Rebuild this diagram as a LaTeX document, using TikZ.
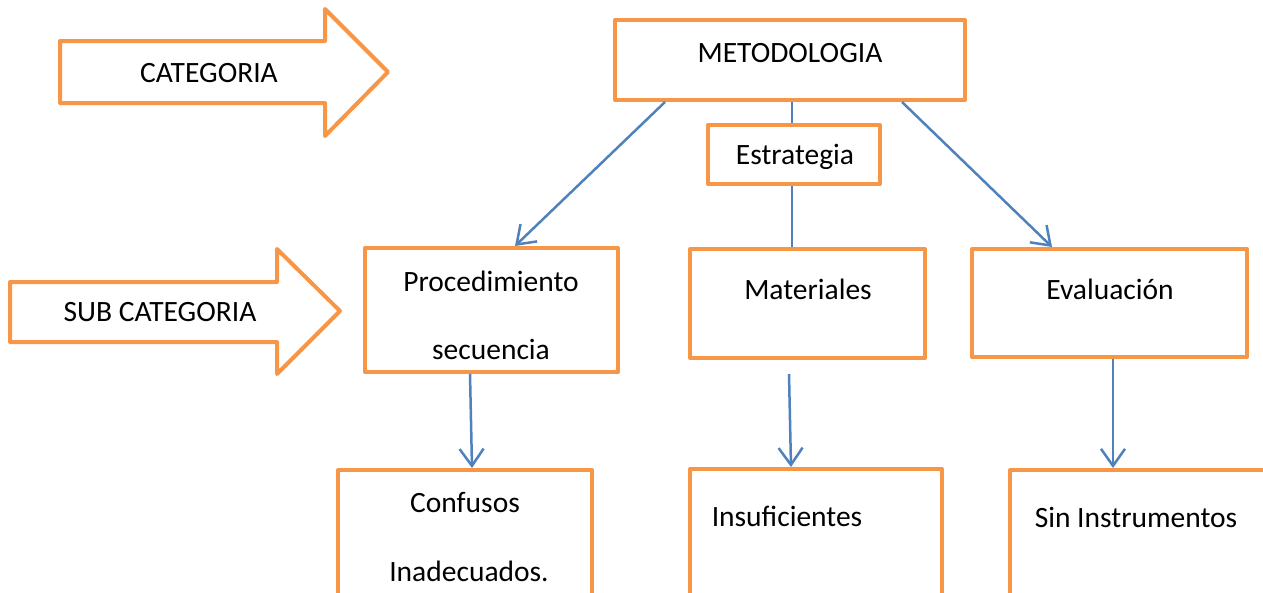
\documentclass[tikz,border=0pt]{standalone}
\usepackage{fontspec}
\setmainfont{Carlito}
\usetikzlibrary{
    arrows.meta, % Open arrow tips on the connectors.
}
\definecolor{boxorange}{HTML}{F79646}
\definecolor{linkblue}{HTML}{4F81BD}

\begin{document}
\begin{tikzpicture}[%
        x = 1pt,
        y = -1pt,
        line join = round,
        box/.style = {draw = boxorange, line width = 4pt, fill = white,
            inner sep = 0pt},
        link/.style = {draw = linkblue, line width = 2.5pt,
            -{Straight Barb[length = 17pt, width = 24pt, line width = 2.5pt]}},
        label/.style = {font = \fontsize{29.5}{35}\selectfont}
    ]
        \useasboundingbox (0, 0) rectangle (1263, 592);

        % Big arrows on the left.
        \draw[boxorange, line width = 4pt]
            (60, 41) -- (325, 41) -- (325, 9) -- (388, 72) -- (325, 136)
            -- (325, 103) -- (60, 103) -- cycle;
        \node[label] (cat) at (209, 73) {CATEGORIA};

        \draw[boxorange, line width = 4pt]
            (10, 282) -- (277, 282) -- (277, 249) -- (340, 311) -- (277, 374)
            -- (277, 342) -- (10, 342) -- cycle;
        \node[label] (subcat) at (160, 312) {SUB CATEGORIA};

        % Nodes for all of the boxes.
        \node[box, minimum width = 350, minimum height = 80] (met) at (790, 60) {};
        \node[box, minimum width = 253, minimum height = 124] (proc) at (491.5, 310) {};
        \node[box, minimum width = 235, minimum height = 109] (mat) at (807.5, 303.5) {};
        \node[box, minimum width = 275, minimum height = 108] (eval) at (1109.5, 303) {};
        \node[box, minimum width = 254, minimum height = 140] (conf) at (465, 540) {};
        \node[box, minimum width = 252, minimum height = 140] (insu) at (816, 539) {};
        \node[box, minimum width = 260, minimum height = 140] (sin) at (1140, 540) {};

        % Line from the top box down through the middle one.
        \draw[linkblue, line width = 2pt] (met.south -| 792, 0) -- (mat.north -| 792, 0);
        \node[box, minimum width = 172, minimum height = 59] (estr) at (794, 154.5) {};

        % Connectors.
        \draw[link] (met.south -| 665, 0) -- (proc.north -| 515, 0);
        \draw[link] (met.south -| 902, 0) -- (eval.north -| 1052, 0);
        \draw[link] (proc.south -| 470, 0) -- (conf.north -| 472, 0);
        \draw[link] ([yshift = -14pt] mat.south -| 789, 0) -- (insu.north -| 791, 0);
        \draw[link] (eval.south -| 1113, 0) -- (sin.north -| 1113, 0);

        % Texts in the boxes.
        \node[label] (metl) at (790, 53) {METODOLOGIA};
        \node[label] (estrl) at (795, 157) {Estrategia};
        \node[label] (procl) at (491, 281) {Procedimiento};
        \node[label] (secl) at (491, 349) {secuencia};
        \node[label] (matl) at (808, 289) {Materiales};
        \node[label] (evall) at (1110, 289) {Evaluación};
        \node[label] (confl) at (465, 502) {Confusos};
        \node[label] (inadl) at (469, 571) {Inadecuados.};
        \node[label] (insul) at (787, 516) {Insuficientes};
        \node[label] (sinl) at (1136, 517) {Sin Instrumentos};
    \end{tikzpicture}
\end{document}
